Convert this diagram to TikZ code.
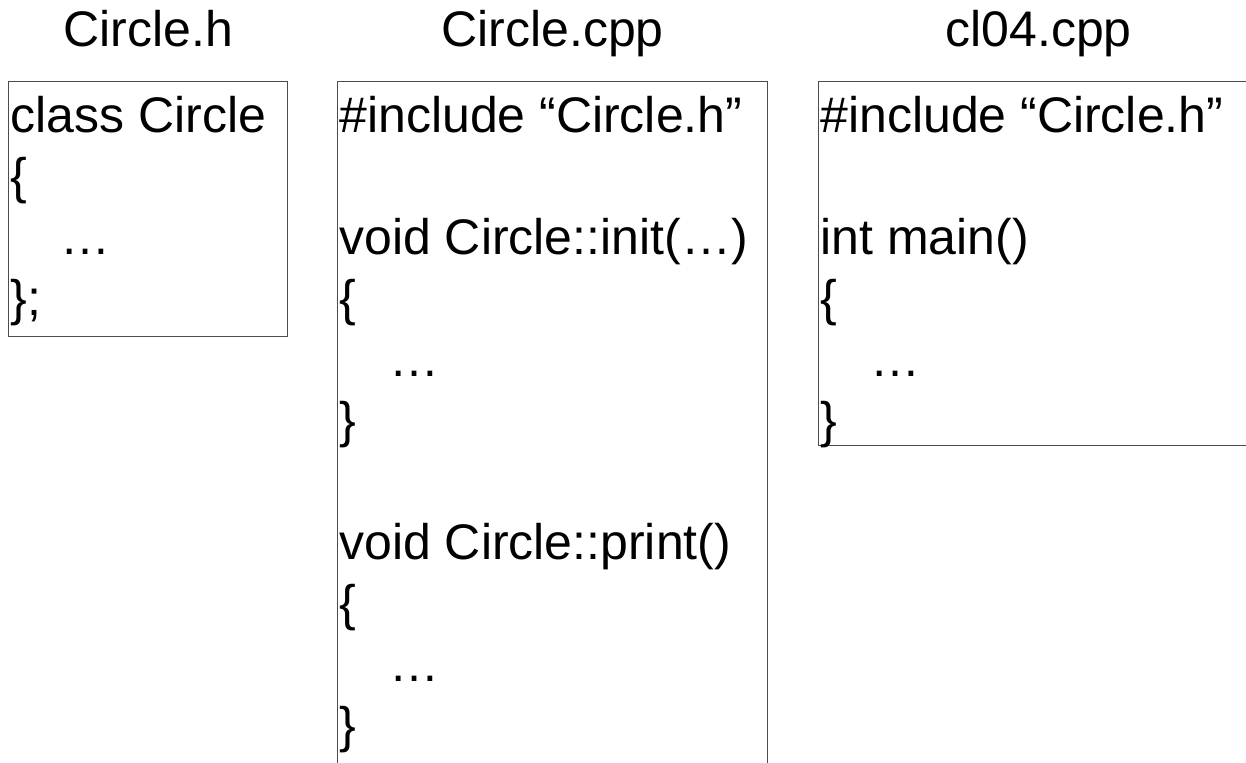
\documentclass[tikz,border=0pt]{standalone}
\usepackage{fontspec}
\setmainfont{Liberation Sans}
\usetikzlibrary{positioning}

\begin{document}
\begin{tikzpicture}[
x=0.5pt, y=-0.5pt,
filebox/.style={rectangle, draw=black!70, line width=0.6pt, anchor=north west, inner sep=0pt},
code/.style={anchor=north west, align=left, inner xsep=1pt, inner ysep=4.3pt, font=\fontsize{25}{30.5}\selectfont},
title/.style={anchor=base, font=\fontsize{25}{30}\selectfont}
]
\useasboundingbox (0,0) rectangle (1246,763);

    % the three source files
    \node[filebox, minimum width=139.5pt, minimum height=127.5pt] (hbox) at (8,81) {};
    \node[filebox, minimum width=215pt, minimum height=360pt] (cppbox) at (337,81) {};
    \node[filebox, minimum width=216pt, minimum height=182pt] (mainbox) at (818,81) {};

    \node[title] (htitle) at ([yshift=17pt]hbox.north) {Circle.h};
    \node[title] (cpptitle) at ([yshift=17pt]cppbox.north) {Circle.cpp};
    \node[title] (maintitle) at ([xshift=2pt, yshift=17pt]mainbox.north) {cl04.cpp};

    \node[code] (hcode) at (hbox.north west) {\strut class Circle\\\{\\\hspace*{1em}…\\\};};
    \node[code] (cppcode) at (cppbox.north west) {\strut\#include “Circle.h”\\\mbox{}\\void Circle::init(…)\\\{\\\hspace*{1em}…\\\}\\\mbox{}\\void Circle::print()\\\{\\\hspace*{1em}…\\\}};
    \node[code] (maincode) at (mainbox.north west) {\strut\#include “Circle.h”\\\mbox{}\\int main()\\\{\\\hspace*{1em}…\\\}};

\end{tikzpicture}
\end{document}
